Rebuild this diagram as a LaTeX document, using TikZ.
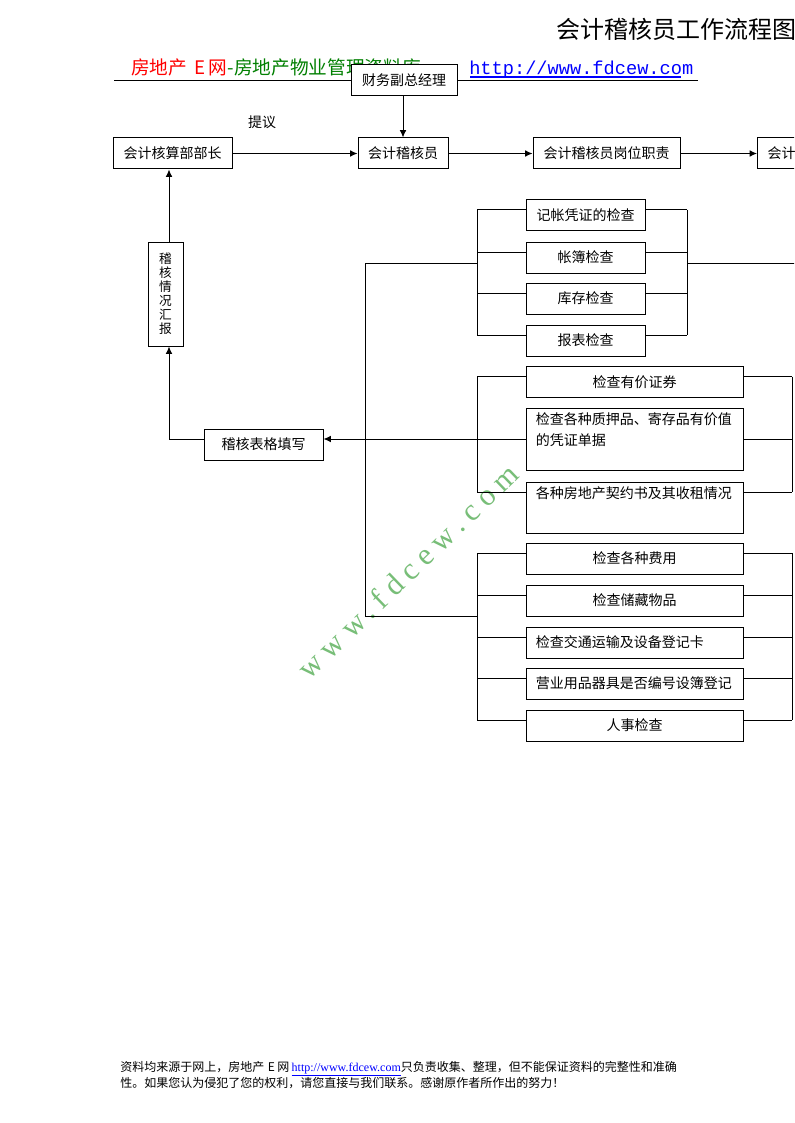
\documentclass[tikz,border=0pt]{standalone}
\usepackage{fontspec}
\setmainfont{Noto Sans CJK SC}
\newfontfamily\monof{Liberation Mono}
\newfontfamily\serifl{Liberation Serif}
\newfontfamily\wmfont[LetterSpace=24]{Liberation Serif}
\usetikzlibrary{arrows.meta,calc}
\definecolor{hdred}{RGB}{255,0,0}
\definecolor{hdgreen}{RGB}{0,128,0}
\definecolor{hdblue}{RGB}{0,0,255}
\definecolor{wmgreen}{RGB}{120,190,120}
\begin{document}
\begin{tikzpicture}[x=0.75pt,y=-0.75pt,
  box/.style={draw, fill=white, line width=0.75pt, inner sep=0pt, font=\fontsize{10.5}{12}\selectfont},
  ln/.style={line width=0.75pt},
  arr/.style={line width=0.75pt, -{Latex[length=5.5pt,width=5pt]}},
  g1box/.style={box, minimum width=89.25pt, minimum height=23.25pt},
  gwide/.style={box, minimum width=162.75pt, minimum height=23.25pt},
  lbl/.style={inner sep=0pt, font=\fontsize{10.5}{12}\selectfont},
]
\useasboundingbox (0,0) rectangle (794,1123);
\fill[white] (0,0) rectangle (794,1123);
\clip (0,0) rectangle (794,1123);

% title
\node[inner sep=0pt, anchor=east, font=\fontsize{18}{20}\selectfont] (title) at (797,29) {会计稽核员工作流程图};

% header
\node[inner sep=0pt, anchor=base west, text=hdred, font=\fontsize{14}{16}\selectfont] (hred) at (131,75) {房地产\hspace{0.4em}E\hspace{0.15em}网};
\node[inner sep=0pt, anchor=base west, text=hdgreen, font=\fontsize{14}{16}\selectfont] (hgreen) at (hred.base east) {-房地产物业管理资料库};
\node[inner sep=0pt, anchor=base west, text=hdblue, font=\monof\fontsize{14}{16}\selectfont] (hurl) at (469,75) {http://www.fdcew.com};
\coordinate (ul1) at (470,77);
\coordinate (ul2) at (681,77);
\draw[hdblue, line width=2.2pt] (ul1) -- (ul2);
\coordinate (hl1) at (114,81);
\coordinate (hl2) at (698,81);
\draw[line width=0.75pt] (hl1) -- (hl2);

% watermark (behind boxes)
\node[text=wmgreen, rotate=44, inner sep=0pt, font=\wmfont\fontsize{23}{25}\selectfont] (wm) at (408,571) {www.fdcew.com};

% top nodes
\node[box, minimum width=79.5pt, minimum height=23.25pt] (fz) at (404,80.5) {财务副总经理};
\node[box, minimum width=89.25pt, minimum height=23.25pt] (bz) at (172.5,153.5) {会计核算部部长};
\node[box, minimum width=67.5pt, minimum height=23.25pt] (jhy) at (403,153.5) {会计稽核员};
\node[box, minimum width=110.25pt, minimum height=23.25pt] (gw) at (606.5,153.5) {会计稽核员岗位职责};
\node[box, anchor=west, minimum height=23.25pt, inner xsep=7.5pt, text width=60pt, align=left] (rr) at (757,153.5) {会计};
\node[lbl] (ty) at (262,122) {提议};

\draw[arr] (fz.south -| jhy) -- (jhy.north);
\draw[arr] (bz.east) -- (jhy.west);
\draw[arr] (jhy.east) -- (gw.west);
\draw[arr] (gw.east) -- (rr.west);

% left column
\node[box, minimum width=26.25pt, minimum height=78pt, align=center, font=\fontsize{9.5}{10.5}\selectfont] (hb) at (165.5,294) {稽\\核\\情\\况\\汇\\报};
\node[box, minimum width=89.25pt, minimum height=23.25pt] (tb) at (263.5,444.5) {稽核表格填写};

% group 1
\node[g1box] (a1) at (585.5,215.5) {记帐凭证的检查};
\node[g1box] (a2) at (585.5,257.5) {帐簿检查};
\node[g1box] (a3) at (585.5,298.5) {库存检查};
\node[g1box] (a4) at (585.5,340.5) {报表检查};

% group 2
\node[gwide] (b1) at (634.5,382) {检查有价证券};
\node[box, minimum width=162.75pt, minimum height=46.5pt] (b2) at (634.5,439) {\parbox[c][46.5pt][t]{148pt}{\vspace{3.5pt}\fontsize{10.5}{15.5}\selectfont 检查各种质押品、寄存品有价值\\的凭证单据}};
\node[box, minimum width=162.75pt, minimum height=38.25pt] (b3) at (634.5,507.5) {\parbox[c][38.25pt][t]{148pt}{\vspace{3.5pt}各种房地产契约书及其收租情况}};

% group 3
\node[gwide] (c1) at (634.5,558.5) {检查各种费用};
\node[gwide] (c2) at (634.5,600.5) {检查储藏物品};
\node[gwide, text width=148pt, align=left] (c3) at (634.5,642.5) {检查交通运输及设备登记卡};
\node[gwide, text width=148pt, align=left] (c4) at (634.5,683.5) {营业用品器具是否编号设簿登记};
\node[gwide] (c5) at (634.5,725.5) {人事检查};

% bus coordinates
\coordinate (L) at (477,0);
\coordinate (R1) at (687,0);
\coordinate (R2) at (792,0);
\coordinate (B) at (365,0);
\coordinate (E) at (800,0);
\coordinate (g1) at (0,263);
\coordinate (g3) at (0,616);
\coordinate (cx) at (169,439);

\foreach \n in {a1,a2,a3,a4,b1,b3,c1,c2,c3,c4,c5} {
  \coordinate (\n-s) at ($(\n.north west)+(0,10.5)$);
  \coordinate (\n-t) at ($(\n.north east)+(0,10.5)$);
  \draw[ln] (\n-s) -- (\n-s -| L);
}
\coordinate (b2-s) at (b2.west);
\coordinate (b2-t) at (b2.east);
\draw[ln] (b2-s) -- (b2-s -| L);

\foreach \n in {a1,a2,a3,a4} { \draw[ln] (\n-t) -- (\n-t -| R1); }
\foreach \n in {b1,b2,b3,c1,c2,c3,c4,c5} { \draw[ln] (\n-t) -- (\n-t -| R2); }

\draw[ln] (a1-s -| L) -- (a4-s -| L);
\draw[ln] (a1-t -| R1) -- (a4-t -| R1);
\draw[ln] (b1-s -| L) -- (b3-s -| L);
\draw[ln] (b1-t -| R2) -- (b3-t -| R2);
\draw[ln] (c1-s -| L) -- (c5-s -| L);
\draw[ln] (c1-t -| R2) -- (c5-t -| R2);

\draw[ln] (g1 -| B) -- (g1 -| L);
\draw[ln] (g1 -| R1) -- (g1 -| E);
\draw[ln] (g3 -| B) -- (g3 -| L);
\draw[ln] (g1 -| B) -- (g3 -| B);

% return path
\draw[arr] (b2.west) -- (tb.east |- b2.west);
\draw[arr] (tb.west |- cx) -- (cx) -- (cx |- hb.south);
\draw[arr] (cx |- hb.north) -- (cx |- bz.south);

% footer
\node[inner sep=0pt, anchor=base west, font=\fontsize{9}{11}\selectfont] (f1) at (120,1071) {资料均来源于网上，房地产\hspace{0.3em}E\hspace{0.2em}网\hspace{0.2em}{\serifl\color{hdblue}\underline{http://www.fdcew.com}}只负责收集、整理，但不能保证资料的完整性和准确};
\node[inner sep=0pt, anchor=base west, font=\fontsize{9}{11}\selectfont] (f2) at (120,1087) {性。如果您认为侵犯了您的权利，请您直接与我们联系。感谢原作者所作出的努力！};
\end{tikzpicture}
\end{document}
